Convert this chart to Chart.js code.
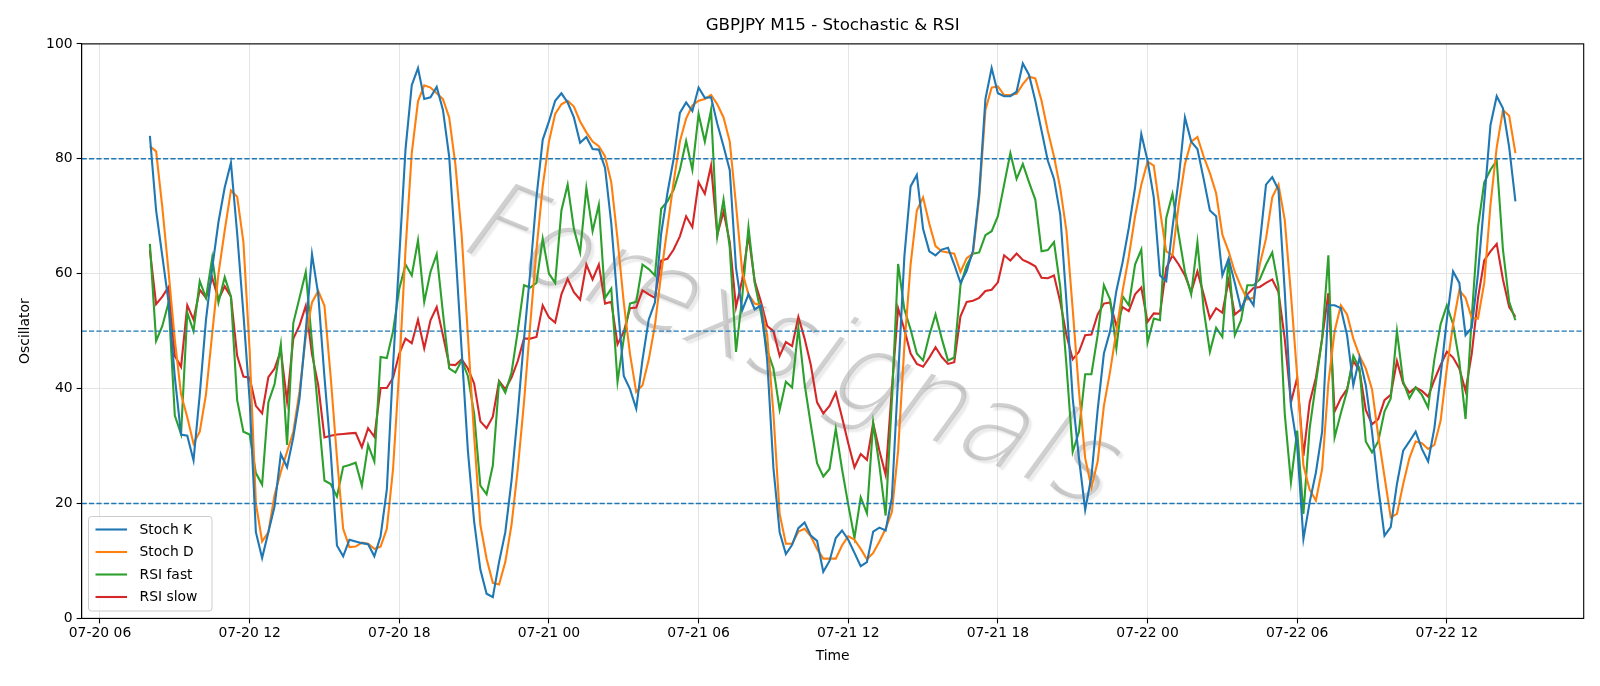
<!DOCTYPE html>
<html>
<head>
<meta charset="utf-8">
<script src="https://cdn.jsdelivr.net/npm/chart.js@4.4.1/dist/chart.umd.min.js"></script>
<style>
  html, body { margin: 0; padding: 0; background: #fff; }
  #wrap { width: 1600px; height: 686px; }
</style>
</head>
<body>
<div id="wrap"><canvas id="chart" width="1600" height="686"></canvas></div>
<script>
// GBPJPY M15 bars, 07-20 08:00 -> 07-22 14:45 (hours counted from 07-20 06:00)
const startHour = 2;
const stepHours = 0.25;

const stochK = [
    84, 71, 63, 55, 42, 32, 31.8, 27.5, 39, 52,
    61, 69, 75, 79.3, 67, 53, 38, 15, 10.5, 15,
    19.5, 28.6, 26.3, 31.5, 38.3, 50, 63.4, 56.4, 42, 29,
    12.7, 10.8, 13.7, 13.4, 13.1, 12.9, 10.8, 14.3, 22.4, 44,
    63, 81.7, 92.8, 95.8, 90.4, 90.7, 92.5, 88.5, 80.4, 64.2,
    46.7, 29.2, 16.9, 8.5, 4.3, 3.7, 9.8, 15, 24, 35.7,
    48.6, 60.3, 73.3, 83.3, 86.5, 90.1, 91.4, 89.8, 87.2, 82.8,
    83.8, 81.7, 81.6, 78.4, 68.7, 55.1, 42.2, 39.9, 36.5, 45,
    52, 55, 67, 74, 80, 88, 89.8, 88.3, 92.4, 90.6,
    90.7, 86.1, 82.2, 78, 61, 53.6, 56.4, 53.8, 54.5, 45,
    26.2, 15, 11.2, 12.8, 15.7, 16.7, 14.4, 13.5, 8.1, 10,
    14, 15.3, 13.7, 11.4, 9.1, 9.8, 15.1, 15.8, 15.3, 21,
    42, 63, 75.2, 77.2, 67.8, 63.9, 63.2, 64.2, 64.5, 61.6,
    58.4, 60.5, 64, 74, 90.4, 95.8, 91.4, 90.9, 90.9, 91.7,
    96.6, 94.6, 90.1, 84.9, 79.7, 76.5, 70.3, 55.1, 38.3, 27.9,
    18.9, 24.7, 36.3, 46.1, 50, 57, 62, 68, 75, 84.3,
    79.7, 73.3, 59.7, 58.7, 68, 76.5, 87.2, 83, 81.7, 76.5,
    71, 70, 59.7, 62.6, 58.4, 53.8, 56.2, 54.5, 65.2, 75.5,
    76.8, 74.6, 57, 37, 30, 13.8, 20.2, 25.4, 32.5, 54.5,
    54.5, 54, 49.3, 40.6, 45.4, 40.6, 32.5, 22.8, 14.4, 15.9,
    23.4, 29.2, 30.8, 32.5, 29.5, 27.3, 33.1, 42.2, 52, 60.4,
    58.4, 49.3, 50.6, 60, 72.6, 85.9, 90.9, 88.8, 82, 72.6
];

const stochD = [
    82.2, 81.3, 71.5, 60.3, 48.5, 39, 35, 30.4, 32.5, 39,
    49.6, 60, 67.5, 74.5, 73.4, 65.5, 46.6, 20, 13.4, 15,
    21.5, 25.5, 29, 32.5, 39.5, 49, 55, 57, 54.4, 42,
    28, 15.6, 12.4, 12.5, 13.2, 13, 12.1, 12.5, 15.6, 26,
    43.4, 64.2, 81, 90, 92.8, 92.4, 91.4, 90.4, 87.2, 79,
    66.8, 49.3, 31.8, 16.3, 10.4, 6.2, 5.9, 9.8, 16.3, 26,
    37.6, 51.2, 64.2, 75.2, 83, 87.8, 89.5, 90.1, 89.1, 86.5,
    84.6, 83, 82.2, 80.4, 75.9, 66, 55, 46, 39.4, 40.6,
    45, 51, 60, 68, 76, 83, 87, 89.3, 90.1, 90.4,
    91.1, 89.5, 87.2, 83, 72, 60.3, 56.4, 54.8, 54.5, 49.3,
    35.7, 18.2, 13, 13, 15.1, 15.6, 14.3, 12.1, 10.4, 10.4,
    10.4, 12.7, 14.3, 13.7, 12.1, 10.3, 11.4, 13.4, 15.6, 18.5,
    29.2, 47.4, 61.6, 71, 73.3, 68.7, 64.8, 63.9, 63.7, 63.5,
    60.3, 62.7, 63.5, 73.3, 88.5, 92.4, 92.6, 91.1, 91.1, 91.3,
    93, 94.3, 94, 90.1, 84.9, 80.4, 74.9, 67.4, 53.8, 39.6,
    27.9, 22.8, 27.3, 37, 43, 50, 57, 63, 70, 75.5,
    79.5, 78.8, 71, 63.9, 63.2, 72, 79.1, 83, 83.8, 80.4,
    77.5, 74, 66.8, 63.9, 60.3, 57.7, 55.5, 55.8, 61.6, 66.1,
    73.3, 75.5, 69.4, 56.4, 42.2, 26.6, 22.4, 20.5, 26, 40.9,
    50, 54.5, 52.9, 48.7, 45.7, 43.5, 39.9, 31.8, 24.7, 17.6,
    18.2, 23.4, 27.9, 30.8, 30.5, 29.5, 30.2, 34.4, 43.5, 51.2,
    57.1, 55.8, 52.3, 52.2, 58.4, 72, 82, 88.5, 87.5, 81
];

const rsiFast = [
    65.2, 48.3, 50.9, 55, 35.3, 32.1, 53.2, 50, 58.7, 55.8,
    62.8, 55, 59.4, 56, 38, 32.5, 32, 25.3, 23.3, 37.6,
    40.8, 47.7, 30.2, 51.4, 55.8, 60.3, 48, 36, 24, 23.4,
    21.2, 26.4, 26.7, 27.1, 23.1, 30.2, 27.3, 45.5, 45.3, 50,
    57.4, 61.6, 59.7, 65.8, 55.1, 60.3, 63.4, 53.2, 43.5, 42.8,
    44.9, 42.2, 35.7, 23.1, 21.6, 26.6, 41.2, 39.3, 42.8, 50,
    58, 57.6, 58.4, 66.1, 60, 58.4, 71, 75.5, 67.8, 63.7,
    74.9, 67.4, 72, 55.8, 57.4, 41.2, 48.7, 54.8, 55.1, 61.6,
    60.8, 59.7, 71.3, 72.6, 74.6, 78.1, 83.1, 78.1, 87.8, 83,
    88.5, 66.5, 72.9, 64.5, 46.4, 56, 68.1, 58.4, 53.2, 46.7,
    43.5, 36.3, 41.2, 40.2, 50.6, 40.8, 33.7, 27, 24.7, 26,
    33, 26, 19.8, 14, 21.1, 18.3, 34, 26.6, 17.9, 38,
    61.7, 53.8, 50.3, 46.1, 44.9, 49.3, 52.9, 48.7, 44.9, 45.4,
    58, 61.5, 63.5, 63.7, 66.7, 67.4, 70, 75.5, 81, 76.5,
    79.1, 75.9, 72.9, 63.9, 64.1, 65.5, 57.7, 44, 29, 32.5,
    42.5, 42.5, 49.3, 58, 55.5, 47, 56.1, 54.5, 61.6, 64.2,
    48, 52.2, 51.9, 69.7, 73.9, 66.8, 60.3, 56.4, 65.5, 53.8,
    46.4, 50.6, 49, 62.6, 49.3, 51.9, 58, 58, 59, 61.6,
    63.7, 57.7, 35.7, 23.7, 32.7, 18.2, 33.1, 40.9, 48.7, 63.2,
    31.5, 35.7, 39.6, 45.7, 43.5, 30.8, 28.9, 30.8, 36, 38.3,
    50, 41.2, 38.3, 40.2, 38.9, 36.7, 45.1, 51.2, 54.5, 51.2,
    44.8, 34.7, 52.5, 68.1, 75.9, 78.1, 79.7, 64.2, 55.1, 51.9
];

const rsiSlow = [
    64.1, 54.7, 56, 57.7, 45.7, 43.8, 54.5, 52, 57.2, 55.8,
    59.3, 55.5, 57.8, 56, 45.7, 42.1, 41.9, 37, 35.7, 42,
    43.5, 46.6, 37.8, 48.7, 51, 54.4, 46, 40.6, 31.5, 31.8,
    32, 32.1, 32.2, 32.3, 29.8, 33.1, 31.6, 40.1, 40.1, 41.9,
    46.1, 48.7, 47.9, 52, 47, 51.9, 54.2, 49.3, 44.2, 44.1,
    45.1, 43.5, 40.9, 34.3, 33.1, 35.1, 41.3, 39.9, 41.9, 44.8,
    48.7, 48.7, 49, 54.5, 52.4, 51.5, 56.4, 59.1, 56.8, 55.5,
    61.6, 59, 61.6, 54.8, 55.1, 47.7, 49.9, 54, 54.1, 57.1,
    56.4, 55.8, 62.3, 62.6, 64.2, 66.5, 70, 68.1, 75.9, 73.9,
    78.8, 66.8, 70.8, 65.5, 54.2, 59, 66.7, 58.7, 55.1, 50.9,
    50, 45.7, 48.1, 47.4, 52.5, 48.7, 44.1, 37.6, 35.7, 37,
    39.3, 35, 30.5, 26.3, 28.6, 27.6, 34, 29.2, 25, 40,
    54, 50.3, 46.1, 44.3, 43.8, 45.4, 47.2, 45.5, 44.3, 44.6,
    52.6, 55.1, 55.3, 55.8, 57, 57.2, 58.5, 63.2, 62.3, 63.5,
    62.4, 61.9, 61.3, 59.3, 59.2, 59.7, 55.1, 49.3, 45.1, 46.4,
    49.3, 49.4, 52.9, 54.8, 55, 50.9, 54.2, 53.5, 56.4, 57.6,
    51.6, 53.1, 53, 61, 63.2, 61.6, 59.7, 56.8, 60.4, 56.4,
    52.2, 54, 53.2, 58.8, 52.9, 53.8, 56.4, 57.5, 57.7, 58.4,
    59, 56.8, 48.7, 37.6, 41.9, 28.3, 37.6, 41.9, 48.7, 56.6,
    36, 38.3, 39.9, 44.8, 43.1, 36.3, 33.8, 34.7, 38, 38.9,
    44.8, 40.9, 39.3, 40.2, 39.6, 38.6, 41.5, 44.1, 46.4, 45.4,
    43.5, 39.6, 46.1, 55.8, 62.3, 63.9, 65.2, 59, 54.2, 52.5
];

const xTickHours = [0, 6, 12, 18, 24, 30, 36, 42, 48, 54];
const xTickLabels = ['07-20 06', '07-20 12', '07-20 18', '07-21 00', '07-21 06',
                     '07-21 12', '07-21 18', '07-22 00', '07-22 06', '07-22 12'];
const yTicks = [0, 20, 40, 60, 80, 100];
const refLevels = [20, 50, 80];

const seriesNames = ['Stoch K', 'Stoch D', 'RSI fast', 'RSI slow'];
const seriesColors = ['#1f77b4', '#ff7f0e', '#2ca02c', '#d62728'];

const FONT = "'DejaVu Sans', 'Liberation Sans', sans-serif";

document.addEventListener('DOMContentLoaded', function() {
    const times = stochK.map(function(_, i) { return startHour + i * stepHours; });
    const toPoints = function(arr) {
        return arr.map(function(v, i) { return { x: times[i], y: v }; });
    };
    const series = [stochK, stochD, rsiFast, rsiSlow];

    const decor = {
        id: 'decor',
        beforeDatasetsDraw(chart) {
            // faint watermark behind the lines
            const ctx = chart.ctx;
            const a = chart.chartArea;
            ctx.save();
            ctx.beginPath();
            ctx.rect(a.left, a.top, a.right - a.left, a.bottom - a.top);
            ctx.clip();
            ctx.translate(792, 352);
            ctx.rotate(22 * Math.PI / 180);
            ctx.transform(1, 0, -0.25, 1, 0, 0);
            ctx.font = '200 112px ' + FONT;
            ctx.textAlign = 'center';
            ctx.textBaseline = 'middle';
            ctx.fillStyle = 'rgba(150,150,150,0.45)';
            ctx.shadowColor = 'rgba(0,0,0,0.18)';
            ctx.shadowOffsetX = 3;
            ctx.shadowOffsetY = 3;
            ctx.shadowBlur = 2;
            ctx.fillText('Forexsignals', 0, 0);
            ctx.restore();
        },
        afterDatasetsDraw(chart) {
            const ctx = chart.ctx;
            const a = chart.chartArea;
            const y = chart.scales.y;
            ctx.save();
            ctx.strokeStyle = '#1f77b4';
            ctx.lineWidth = 1.4;
            ctx.setLineDash([5.2, 2.2]);
            refLevels.forEach(function(level) {
                const py = y.getPixelForValue(level);
                ctx.beginPath();
                ctx.moveTo(a.left, py);
                ctx.lineTo(a.right, py);
                ctx.stroke();
            });
            ctx.restore();
        },
        afterDraw(chart) {
            const ctx = chart.ctx;
            const a = chart.chartArea;
            ctx.save();
            // frame
            ctx.strokeStyle = '#000';
            ctx.lineWidth = 1.1;
            ctx.strokeRect(a.left, a.top, a.right - a.left, a.bottom - a.top);

            // title and axis labels
            ctx.fillStyle = '#000';
            ctx.textAlign = 'center';
            ctx.textBaseline = 'middle';
            ctx.font = '16.7px ' + FONT;
            ctx.fillText('GBPJPY M15 - Stochastic & RSI', (a.left + a.right) / 2, 25.5);
            ctx.font = '13.9px ' + FONT;
            ctx.fillText('Time', (a.left + a.right) / 2, 656);
            ctx.save();
            ctx.translate(25.5, (a.top + a.bottom) / 2);
            ctx.rotate(-Math.PI / 2);
            ctx.fillText('Oscillator', 0, 0);
            ctx.restore();

            // legend, lower left inside the axes
            const bx = 88.5, by = 516.5, bw = 123.5, bh = 94.5;
            ctx.beginPath();
            ctx.roundRect(bx, by, bw, bh, 3);
            ctx.fillStyle = 'rgba(255,255,255,0.8)';
            ctx.fill();
            ctx.strokeStyle = '#cccccc';
            ctx.lineWidth = 1;
            ctx.stroke();
            ctx.textAlign = 'left';
            ctx.font = '13.9px ' + FONT;
            seriesNames.forEach(function(name, i) {
                const ry = 529.5 + i * 22.5;
                ctx.strokeStyle = seriesColors[i];
                ctx.lineWidth = 2.1;
                ctx.beginPath();
                ctx.moveTo(95.5, ry);
                ctx.lineTo(127, ry);
                ctx.stroke();
                ctx.fillStyle = '#000';
                ctx.fillText(name, 139.5, ry + 0.5);
            });
            ctx.restore();
        }
    };

    const ctx = document.getElementById('chart').getContext('2d');
    new Chart(ctx, {
        type: 'line',
        data: {
            datasets: series.map(function(arr, i) {
                return {
                    label: seriesNames[i],
                    data: toPoints(arr),
                    borderColor: seriesColors[i],
                    backgroundColor: seriesColors[i],
                    borderWidth: 2.1,
                    fill: false,
                    tension: 0,
                    pointRadius: 0,
                    pointHoverRadius: 0
                };
            })
        },
        options: {
            responsive: false,
            animation: false,
            devicePixelRatio: 1,
            layout: {
                padding: { left: 0, right: 16.3, top: 43.9, bottom: 0 }
            },
            plugins: {
                legend: { display: false },
                title: { display: false },
                tooltip: { enabled: false }
            },
            scales: {
                x: {
                    type: 'linear',
                    min: -0.7375,
                    max: 59.4875,
                    afterFit: function(scale) { scale.height = 67.6; },
                    afterBuildTicks: function(scale) {
                        scale.ticks = xTickHours.map(function(v) { return { value: v }; });
                    },
                    grid: {
                        color: '#e4e4e4',
                        lineWidth: 1,
                        tickColor: '#000',
                        tickLength: 5,
                        tickWidth: 1.1
                    },
                    border: { display: true, color: '#000', width: 1.1 },
                    ticks: {
                        autoSkip: false,
                        maxRotation: 0,
                        padding: 2,
                        color: '#000',
                        font: { family: FONT, size: 13.9 },
                        callback: function(value) {
                            const k = xTickHours.indexOf(value);
                            return k >= 0 ? xTickLabels[k] : '';
                        }
                    }
                },
                y: {
                    min: 0,
                    max: 100,
                    afterFit: function(scale) { scale.width = 81.6; },
                    afterBuildTicks: function(scale) {
                        scale.ticks = yTicks.map(function(v) { return { value: v }; });
                    },
                    grid: {
                        color: '#e4e4e4',
                        lineWidth: 1,
                        tickColor: '#000',
                        tickLength: 5,
                        tickWidth: 1.1
                    },
                    border: { display: true, color: '#000', width: 1.1 },
                    ticks: {
                        padding: 4,
                        color: '#000',
                        font: { family: FONT, size: 13.9 }
                    }
                }
            }
        },
        plugins: [decor]
    });
});
</script>
</body>
</html>
